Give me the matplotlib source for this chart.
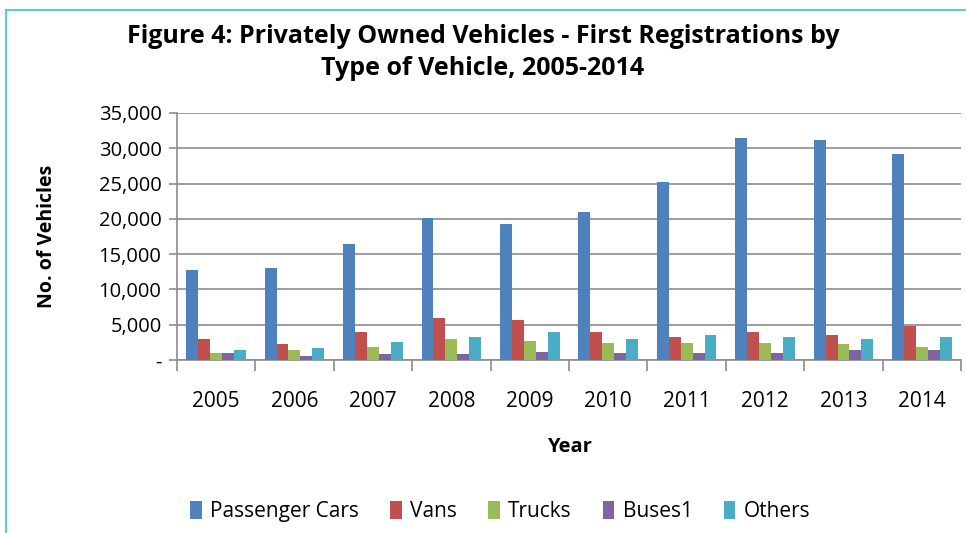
import matplotlib.pyplot as plt
import numpy as np
from matplotlib.lines import Line2D
from matplotlib.ticker import FuncFormatter, FixedLocator

# data
years = ['2005', '2006', '2007', '2008', '2009', '2010', '2011', '2012', '2013', '2014']
passenger_cars = [12700, 13000, 16500, 20100, 19300, 20900, 25200, 31500, 31200, 29200]
vans = [3000, 2200, 3900, 5900, 5600, 3900, 3300, 3900, 3600, 4800]
trucks = [1050, 1350, 1900, 3000, 2750, 2450, 2450, 2450, 2200, 1900]
buses1 = [1050, 500, 800, 800, 1100, 1050, 1050, 1050, 1350, 1350]
others = [1350, 1650, 2500, 3300, 3900, 3000, 3600, 3300, 3000, 3300]

series = [
    ('Passenger Cars', passenger_cars, '#4F81BD'),
    ('Vans', vans, '#C0504D'),
    ('Trucks', trucks, '#9BBB59'),
    ('Buses1', buses1, '#8064A2'),
    ('Others', others, '#4BACC6'),
]

plt.rcParams['font.family'] = ['Open Sans', 'DejaVu Sans']

fig = plt.figure(figsize=(9.66, 5.33), dpi=100)
ax = fig.add_axes([0.183, 0.3246, 0.812, 0.4634])

x = np.arange(len(years))
w = 0.152
for i, (name, vals, col) in enumerate(series):
    ax.bar(x + (i - 2) * w, vals, width=w, color=col, label=name, zorder=3)

ax.set_xlim(-0.5, len(years) - 0.5)
ax.set_ylim(0, 35000)
ax.set_yticks(np.arange(0, 35001, 5000))
ax.yaxis.set_major_formatter(FuncFormatter(lambda v, p: '-' if v == 0 else f'{int(v):,}'))
ax.grid(axis='y', color='#8c8c8c', linewidth=1.2, zorder=0)

ax.set_xticks(x)
ax.set_xticklabels(years)
ax.xaxis.set_minor_locator(FixedLocator(np.arange(-0.5, len(years), 1)))
ax.tick_params(axis='x', which='major', length=0, pad=22, labelsize=15)
ax.tick_params(axis='x', which='minor', length=8, color='#8c8c8c', width=1.2)
ax.tick_params(axis='y', length=6, color='#8c8c8c', width=1.2, labelsize=14.5, pad=5)

for s in ['top', 'right']:
    ax.spines[s].set_visible(False)
ax.spines['left'].set_color('#8c8c8c')
ax.spines['bottom'].set_color('#8c8c8c')
ax.spines['left'].set_linewidth(1.2)
ax.spines['bottom'].set_linewidth(1.2)

ax.set_ylabel('No. of Vehicles', fontsize=14, fontweight='bold', labelpad=30)
ax.set_xlabel('Year', fontsize=14.5, fontweight='bold', labelpad=18)

fig.text(0.5, 0.902, 'Figure 4: Privately Owned Vehicles - First Registrations by\nType of Vehicle, 2005-2014',
         ha='center', va='center', fontsize=18, fontweight='bold', linespacing=1.35)

fig.legend(loc='center', bbox_to_anchor=(0.518, 0.04), ncol=5, frameon=False, fontsize=15,
           handlelength=0.55, handleheight=0.9, handletextpad=0.4, columnspacing=1.5)

# light blue frame on left and top
fig.add_artist(Line2D([0.0065, 0.0065], [0, 0.982], color='#5BC8F0', linewidth=1.5, transform=fig.transFigure))
fig.add_artist(Line2D([0.0065, 1], [0.982, 0.982], color='#5BC8F0', linewidth=1.5, transform=fig.transFigure))

fig.savefig('out.png', dpi=100)
